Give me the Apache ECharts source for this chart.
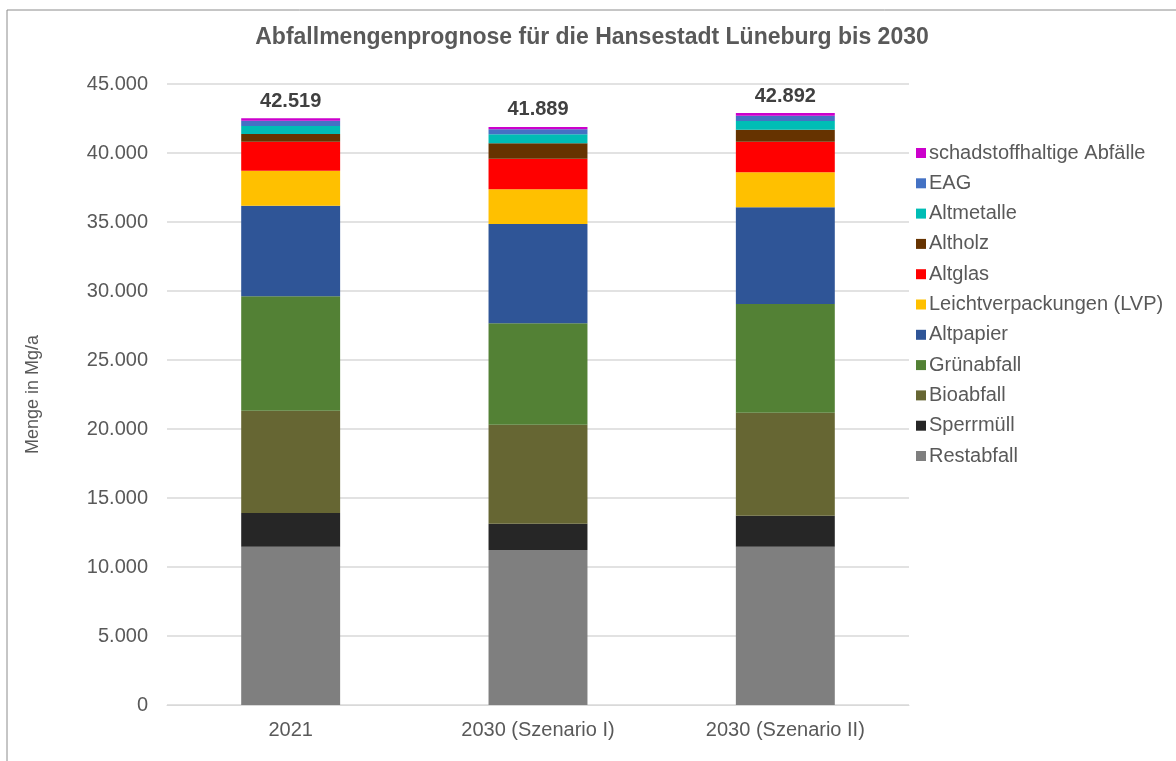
<!DOCTYPE html>
<html>
<head>
<meta charset="utf-8">
<script src="https://cdn.jsdelivr.net/npm/echarts@6/dist/echarts.min.js"></script>
<style>
  html, body { margin: 0; padding: 0; background: #fff; }
  #chart { width: 1176px; height: 761px; }
</style>
</head>
<body>
<div id="chart"></div>
<script>
// Kategorien und Mengen (Mg/a), von unten nach oben gestapelt
var categories = ['2021', '2030 (Szenario I)', '2030 (Szenario II)'];
var restabfall = [11470, 11230, 11470];
var sperrmuell = [2440, 1910, 2250];
var bioabfall = [7420, 7170, 7460];
var gruenabfall = [8290, 7350, 7880];
var altpapier = [6560, 7200, 7000];
var lvp = [2540, 2510, 2540];
var altglas = [2100, 2220, 2220];
var altholz = [560, 1110, 870];
var altmetalle = [580, 650, 630];
var eag = [380, 370, 380];
var schadstoffe = [179, 169, 192];
var totals = [42519, 41889, 42892];

var seriesNames = ['Restabfall', 'Sperrmüll', 'Bioabfall', 'Grünabfall', 'Altpapier',
  'Leichtverpackungen (LVP)', 'Altglas', 'Altholz', 'Altmetalle', 'EAG', 'schadstoffhaltige Abfälle'];
var seriesData = [restabfall, sperrmuell, bioabfall, gruenabfall, altpapier,
  lvp, altglas, altholz, altmetalle, eag, schadstoffe];
var colors = ['#7F7F7F', '#262626', '#666633', '#538135', '#2F5597',
  '#FFC000', '#FF0000', '#663300', '#00BDB5', '#4472C4', '#CC00CC'];

function fmt(v) {
  return String(v).replace(/\B(?=(\d{3})+(?!\d))/g, '.');
}

var myChart = echarts.init(document.getElementById('chart'));

var series = seriesNames.map(function (name, i) {
  var s = {
    name: name,
    type: 'bar',
    stack: 'menge',
    barWidth: '40%',
    data: seriesData[i],
    itemStyle: { color: colors[i] }
  };
  if (i === seriesNames.length - 1) {
    s.label = {
      show: true,
      position: 'top',
      distance: 7,
      color: '#404040',
      fontFamily: 'Liberation Sans',
      fontWeight: 'bold',
      fontSize: 20,
      formatter: function (p) { return fmt(totals[p.dataIndex]); }
    };
  }
  return s;
});

var option = {
  animation: false,
  color: colors,
  title: {
    text: 'Abfallmengenprognose für die Hansestadt Lüneburg bis 2030',
    left: 587,
    textAlign: 'center',
    top: 21,
    textStyle: {
      fontFamily: 'Liberation Sans',
      fontWeight: 'bold',
      fontSize: 23,
      color: '#595959'
    }
  },
  legend: {
    orient: 'vertical',
    left: 911,
    top: 138,
    itemWidth: 10,
    itemHeight: 10,
    itemGap: 10.3,
    icon: 'rect',
    data: seriesNames.slice().reverse(),
    textStyle: {
      fontFamily: 'Liberation Sans',
      fontSize: 20,
      lineHeight: 20,
      color: '#595959',
      padding: [0, 0, 0, -2]
    }
  },
  grid: {
    left: 167,
    top: 84,
    width: 742,
    height: 621,
    containLabel: false
  },
  xAxis: {
    type: 'category',
    data: categories,
    axisTick: { show: false },
    axisLine: { lineStyle: { color: '#D9D9D9', width: 1 } },
    axisLabel: {
      fontFamily: 'Liberation Sans',
      fontSize: 20,
      color: '#595959',
      margin: 15
    }
  },
  yAxis: {
    type: 'value',
    min: 0,
    max: 45000,
    interval: 5000,
    name: 'Menge in Mg/a',
    nameLocation: 'middle',
    nameGap: 125,
    nameRotate: 90,
    nameTextStyle: {
      fontFamily: 'Liberation Sans',
      fontSize: 18,
      color: '#595959'
    },
    axisLine: { show: false },
    axisTick: { show: false },
    splitLine: { lineStyle: { color: '#D9D9D9', width: 1.5 } },
    axisLabel: {
      fontFamily: 'Liberation Sans',
      fontSize: 20,
      color: '#595959',
      margin: 19,
      formatter: function (v) { return fmt(v); }
    }
  },
  graphic: [{
    type: 'rect',
    shape: { x: 7, y: 10, width: 1200, height: 800 },
    style: { fill: 'none', stroke: '#8C8C8C', lineWidth: 1 },
    silent: true,
    z: 100
  }],
  series: series
};

myChart.setOption(option);
</script>
</body>
</html>
